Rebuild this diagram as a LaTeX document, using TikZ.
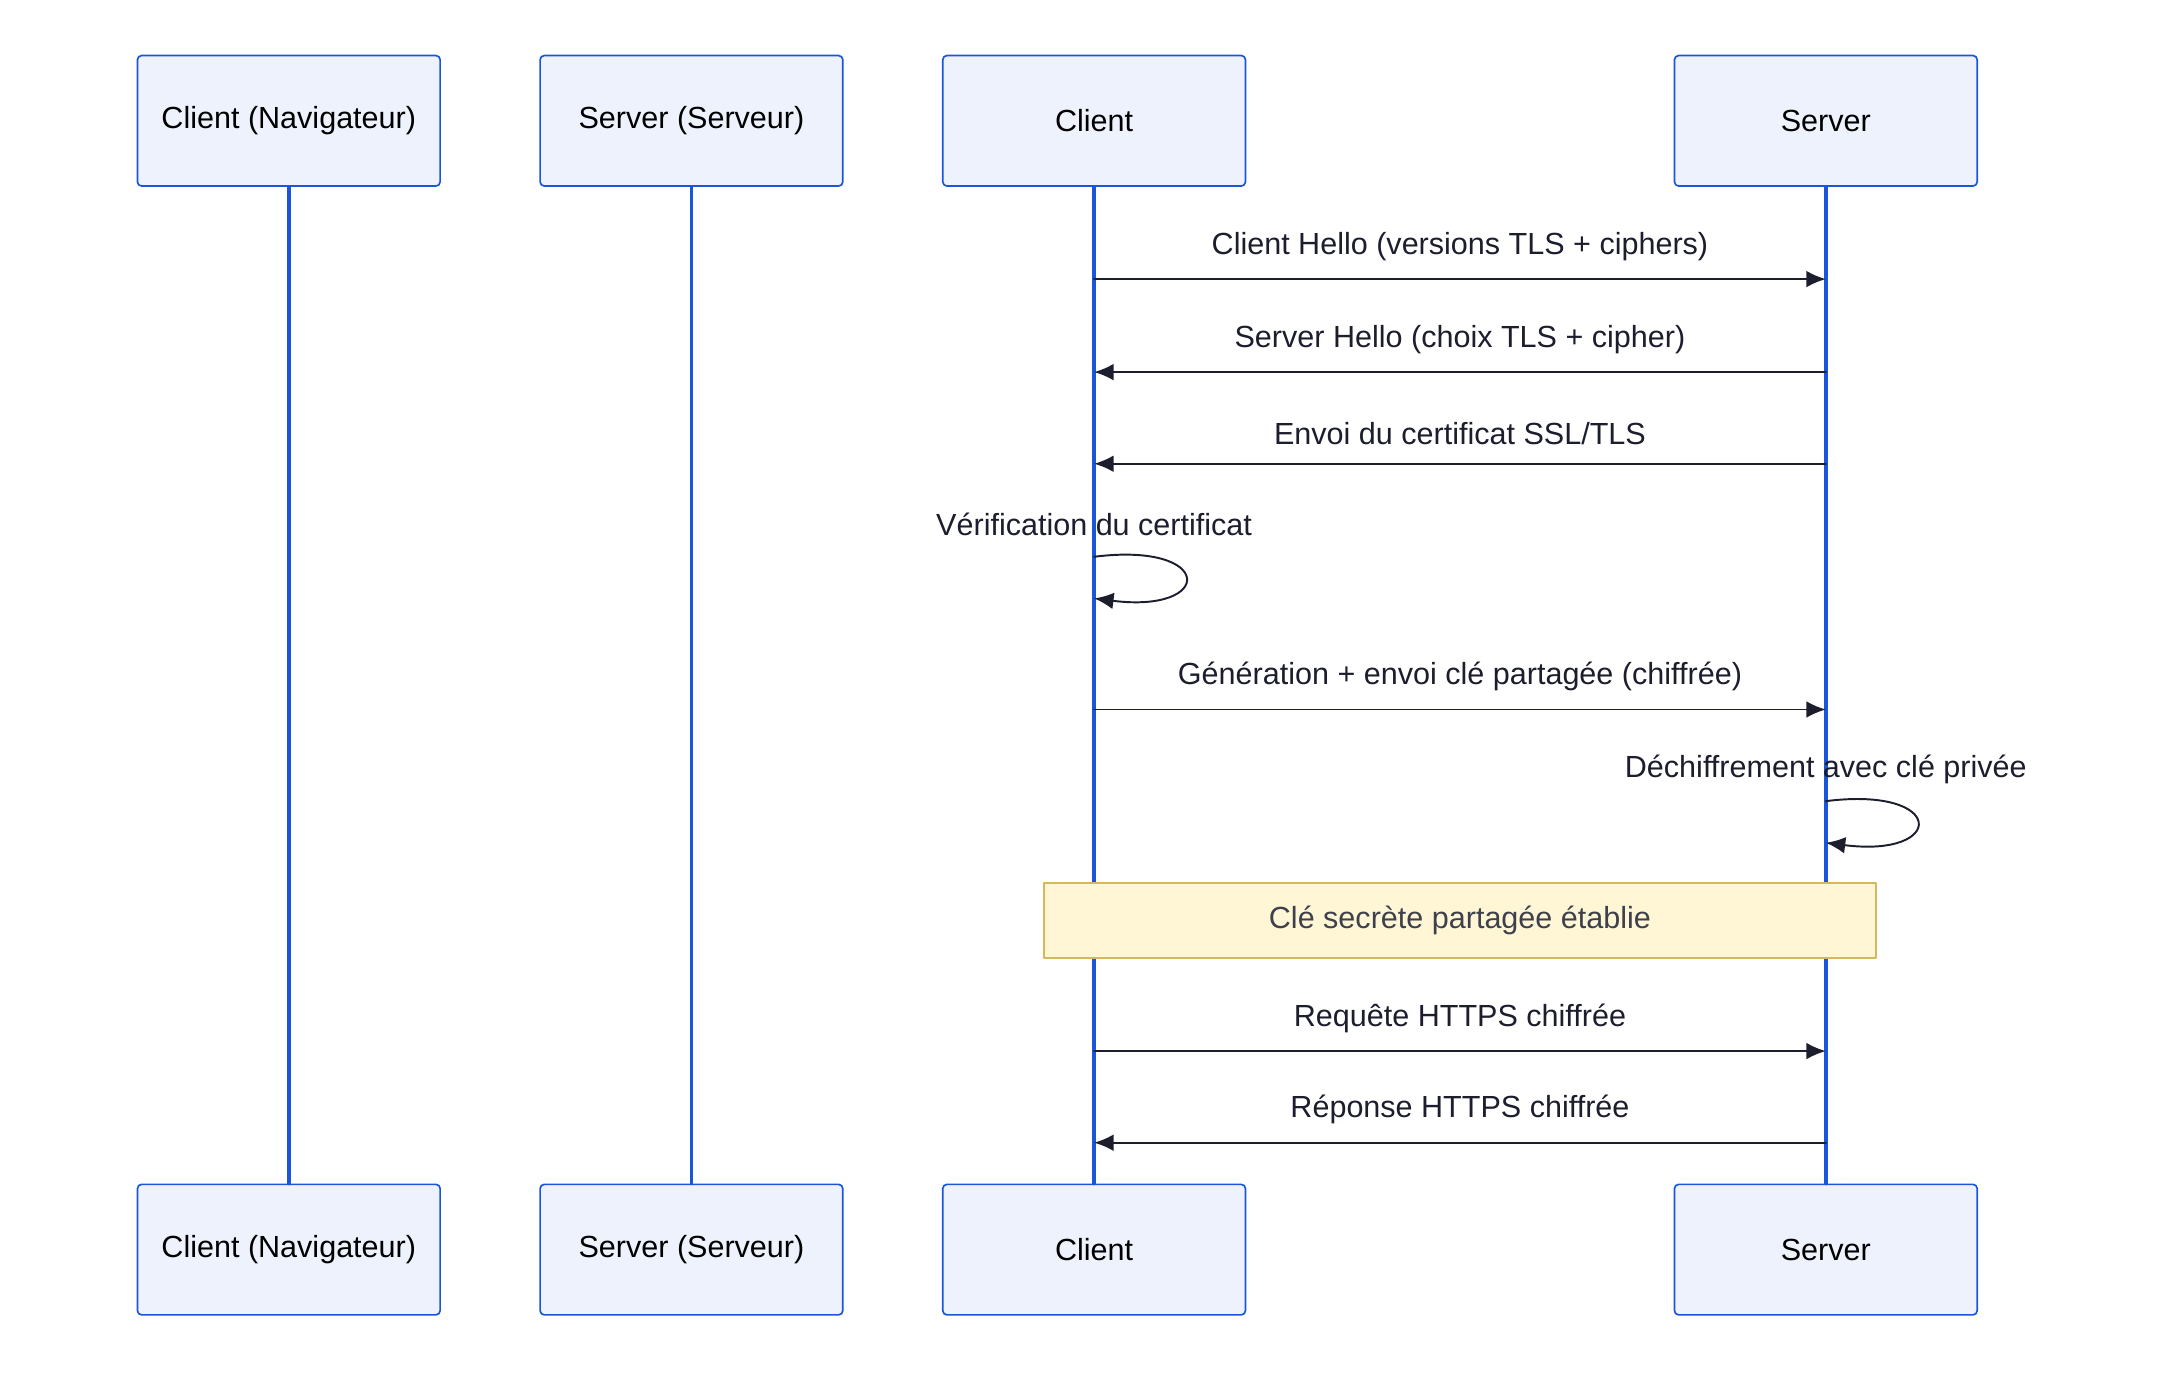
\documentclass[tikz,border=0pt]{standalone}
\usepackage{fontspec}
\setmainfont{Liberation Sans}
\usetikzlibrary{arrows.meta}
\definecolor{actorfill}{HTML}{EEF2FD}
\definecolor{actorline}{HTML}{1A56DB}
\definecolor{msgline}{HTML}{1C1E2E}
\definecolor{notefill}{HTML}{FFF6D5}
\definecolor{noteline}{HTML}{D4B85A}

\tikzset{
  actor/.style={draw=actorline, fill=actorfill, rounded corners=1.5pt, line width=0.6pt,
    minimum width=109pt, minimum height=47pt, font=\fontsize{11}{13}\selectfont},
  lifeline/.style={draw=actorline, line width=1.3pt},
  msg/.style={draw=msgline, line width=0.7pt, -{Latex[length=7pt,width=6pt]}},
  msglabel/.style={font=\fontsize{11}{13}\selectfont, text=msgline},
  notebox/.style={draw=noteline, fill=notefill, line width=0.6pt, minimum width=299.5pt,
    minimum height=27pt, font=\fontsize{11}{13}\selectfont, text=msgline!85}
}

\begin{document}
\begin{tikzpicture}[x=0.5pt, y=-0.5pt, line cap=round, line join=round]
		\useasboundingbox (0,0) rectangle (1560,990);
		
		%Actors
		\foreach \name/\xpos/\txt in {nav/208/Client (Navigateur), srv/498/Server (Serveur), cli/788/Client, ser/1315/Server}
		{
			\node[actor] (\name top) at (\xpos,87) {\txt};
			\node[actor] (\name bot) at (\xpos,900) {\txt};
			\draw[lifeline] (\name top.south) -- (\name bot.north);
		}
		
		%Coordinates on lifelines
		\coordinate (c1) at (788,201); \coordinate (s1) at (1315,201);
		\coordinate (c2) at (788,268); \coordinate (s2) at (1315,268);
		\coordinate (c3) at (788,334); \coordinate (s3) at (1315,334);
		\coordinate (c5) at (788,511); \coordinate (s5) at (1315,511);
		\coordinate (c8) at (788,757); \coordinate (s8) at (1315,757);
		\coordinate (c9) at (788,823); \coordinate (s9) at (1315,823);
		
		%Messages
		\draw[msg] (c1) -- node[msglabel, above=3pt] {Client Hello (versions TLS + ciphers)} (s1);
		\draw[msg] (s2) -- node[msglabel, above=3pt] {Server Hello (choix TLS + cipher)} (c2);
		\draw[msg] (s3) -- node[msglabel, above=3pt] {Envoi du certificat SSL/TLS} (c3);
		\draw[msg] (c5) -- node[msglabel, above=3pt] {Génération + envoi clé partagée (chiffrée)} (s5);
		\draw[msg] (c8) -- node[msglabel, above=3pt] {Requête HTTPS chiffrée} (s8);
		\draw[msg] (s9) -- node[msglabel, above=3pt] {Réponse HTTPS chiffrée} (c9);
		
		%Self messages
		\node[msglabel] (verif) at (788,378) {Vérification du certificat};
		\coordinate (v1) at (788,401);
		\coordinate (v2) at (788,431);
		\draw[msg] (v1) .. controls (875,390) and (875,442) .. (v2);
		\node[msglabel] (dechif) at (1315,554) {Déchiffrement avec clé privée};
		\coordinate (d1) at (1315,577);
		\coordinate (d2) at (1315,607);
		\draw[msg] (d1) .. controls (1402,566) and (1402,618) .. (d2);
		
		%Note
		\node[notebox] (secret) at (1051.5,663) {Clé secrète partagée établie};
		
	\end{tikzpicture}
\end{document}
